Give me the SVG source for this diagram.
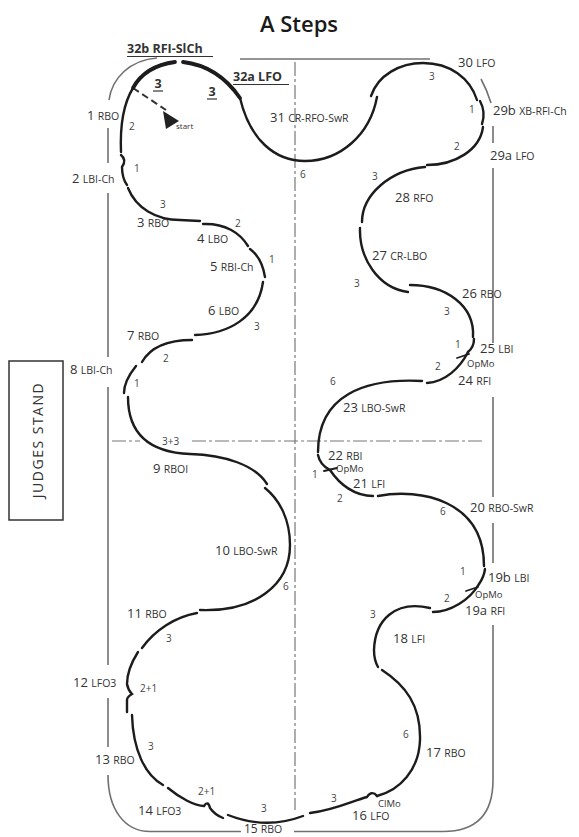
<svg xmlns="http://www.w3.org/2000/svg" width="579" height="837" viewBox="0 0 579 837">
<style>
.trace{fill:none;stroke:#1c1c1c;stroke-width:2.4;stroke-linecap:round}
.thick{stroke-width:3.8}
.rink{fill:none;stroke:#707070;stroke-width:1.6}
.axis{fill:none;stroke:#777;stroke-width:1.2;stroke-dasharray:14 3 3 3}
.ul{stroke:#333;stroke-width:1.2}
text{font-family:"Open Sans","Liberation Sans",Arial,sans-serif;fill:#333}
.lbl{font-size:13px}
.code{font-size:10.5px}
.cnt{font-size:10px;fill:#444}
.op{font-size:9.5px}
.hd{font-size:12.5px;font-weight:bold}
.title{font-size:22px;fill:#1a1a1a;font-weight:600}
</style>
<rect width="579" height="837" fill="#fff"/>
<text class="title" x="299" y="32" text-anchor="middle">A Steps</text>

<g id="rink">
<path class="rink" d="M109,100 C112,78 130,60 157,58"/>
<path class="rink" d="M240,59 L430,59"/>
<path class="rink" d="M481,79 Q487,90 491,103"/>
<path class="rink" d="M493,126 L493,143 M493,168 L493,343 M493,397 L493,497 M493,523 L493,563 M493,625 L493,780"/>
<path class="rink" d="M493,780 C493,815 475,831.5 443,831.5 L294,831.5 M241,831.5 L150,831.5 C125,831.5 108,810 108,775"/>
<path class="rink" d="M108,747 L108,698 M108,665 L108,387 M108,357 L108,193 M108,163 L108,128"/>
</g>

<g id="axes">
<path class="axis" d="M295,62 L295,810"/>
<path class="axis" d="M112,441 L140,441 M192,441 L482,441"/>
</g>

<g id="judges-stand">
<rect x="9" y="361" width="54" height="159" fill="none" stroke="#333" stroke-width="1.5"/>
<text x="0" y="0" transform="translate(43,440) rotate(-90)" text-anchor="middle" style="font-size:14px;letter-spacing:1.5px">JUDGES STAND</text>
</g>

<g id="start">
<path d="M133,88 L166,110" fill="none" stroke="#333" stroke-width="2" stroke-dasharray="7 4"/>
<polygon points="163,111 179,121 166,129" fill="#222"/>
<text x="176" y="129" style="font-size:8px">start</text>
</g>

<g id="connectors">
<g id="step-1"><path class="trace" d="M133,88 C122,106 120,128 121,152"/>
<text class="lbl" x="87" y="120">1 <tspan class="code">RBO</tspan></text><text class="cnt" x="129" y="130">2</text></g>
<g id="step-2"><path class="trace" d="M121,155 Q127,160 122,167 Q122,178 127,185"/>
<text class="lbl" x="72" y="183">2 <tspan class="code">LBI-Ch</tspan></text><text class="cnt" x="134" y="172">1</text></g>
<g id="step-3"><path class="trace" d="M128,188 C136,208 156,220 180,220 L200,221"/>
<text class="lbl" x="137" y="227">3 <tspan class="code">RBO</tspan></text><text class="cnt" x="160" y="208">3</text></g>
<g id="step-4"><path class="trace" d="M203,224 C225,223 240,233 248,246"/>
<text class="lbl" x="197" y="243">4 <tspan class="code">LBO</tspan></text><text class="cnt" x="235" y="227">2</text></g>
<g id="step-5"><path class="trace" d="M250,249 Q262,258 265,277"/>
<text class="lbl" x="210" y="271">5 <tspan class="code">RBI-Ch</tspan></text><text class="cnt" x="269" y="263">1</text></g>
<g id="step-6"><path class="trace" d="M263,282 C258,318 228,334 195,335"/>
<text class="lbl" x="208" y="315">6 <tspan class="code">LBO</tspan></text><text class="cnt" x="254" y="330">3</text></g>
<g id="step-7"><path class="trace" d="M192,340 C165,340 150,348 142,362"/>
<text class="lbl" x="127" y="340">7 <tspan class="code">RBO</tspan></text><text class="cnt" x="163" y="362">2</text></g>
<g id="step-8"><path class="trace" d="M136,366 C128,376 124,384 124,393"/>
<text class="lbl" x="70" y="374">8 <tspan class="code">LBI-Ch</tspan></text><text class="cnt" x="134" y="387">1</text></g>
<g id="step-9"><path class="trace" d="M128,397 C128,425 140,452 190,454 C225,455 255,465 267,484"/>
<text class="lbl" x="153" y="473">9 <tspan class="code">RBOI</tspan></text><text class="cnt" x="162" y="445">3+3</text></g>
<g id="step-10"><path class="trace" d="M265,488 C280,500 290,520 290,545 C290,585 255,612 200,610"/>
<text class="lbl" x="215" y="555">10 <tspan class="code">LBO-SwR</tspan></text><text class="cnt" x="283" y="590">6</text></g>
<g id="step-11"><path class="trace" d="M197,613 C175,617 155,630 142,648"/>
<text class="lbl" x="127" y="618">11 <tspan class="code">RBO</tspan></text><text class="cnt" x="166" y="642">3</text></g>
<g id="step-12"><path class="trace" d="M138,652 C131,663 127,673 127,684 Q128,690 132,694 Q127,697 127,700 L127,712"/>
<text class="lbl" x="73" y="687">12 <tspan class="code">LFO3</tspan></text><text class="cnt" x="140" y="692">2+1</text></g>
<g id="step-13"><path class="trace" d="M132,715 C133,750 145,775 163,785"/>
<text class="lbl" x="95" y="764">13 <tspan class="code">RBO</tspan></text><text class="cnt" x="148" y="750">3</text></g>
<g id="step-14"><path class="trace" d="M168,788 C180,798 195,806 204,806 Q208,800 210,808 Q215,815 223,818"/>
<text class="lbl" x="138" y="815">14 <tspan class="code">LFO3</tspan></text><text class="cnt" x="198" y="795">2+1</text></g>
<g id="step-15"><path class="trace" d="M228,815 Q266,830 303,816"/>
<text class="lbl" x="244" y="833" style="font-size:12px">15 <tspan class="code">RBO</tspan></text><text class="cnt" x="261" y="812">3</text></g>
<g id="step-16"><path class="trace" d="M310,813 C335,810 352,801 367,797 C370,792 374,792 377,796"/>
<text class="lbl" x="352" y="820">16 <tspan class="code">LFO</tspan></text><text class="op" x="378" y="807">ClMo</text><text class="cnt" x="331" y="802">3</text></g>
<g id="step-17"><path class="trace" d="M377,796 C400,790 419,770 420,740 C421,705 405,685 382,670"/>
<text class="lbl" x="426" y="757">17 <tspan class="code">RBO</tspan></text><text class="cnt" x="403" y="738">6</text></g>
<g id="step-18"><path class="trace" d="M378,667 Q374,660 374,650 C375,620 395,600 430,608"/>
<text class="lbl" x="393" y="643">18 <tspan class="code">LFI</tspan></text><text class="cnt" x="370" y="618">3</text></g>
<g id="step-19a"><path class="trace" d="M433,612 C450,612 470,600 479,584"/><path class="trace" d="M466,591 L478,587" style="stroke-width:1.8"/>
<text class="lbl" x="465" y="615">19a <tspan class="code">RFI</tspan></text><text class="op" x="475" y="598">OpMo</text><text class="cnt" x="444" y="602">2</text></g>
<g id="step-19b"><path class="trace" d="M485,569 Q484,577 479,584"/>
<text class="lbl" x="488" y="582">19b <tspan class="code">LBI</tspan></text><text class="cnt" x="460" y="575">1</text></g>
<g id="step-20"><path class="trace" d="M378,496 C420,488 484,500 484,566"/>
<text class="lbl" x="470" y="512">20 <tspan class="code">RBO-SwR</tspan></text><text class="cnt" x="440" y="515">6</text></g>
<g id="step-21"><path class="trace" d="M330,470 C340,485 355,496 373,496"/>
<text class="lbl" x="353" y="488">21 <tspan class="code">LFI</tspan></text><text class="cnt" x="337" y="502">2</text></g>
<g id="step-22"><path class="trace" d="M318,455 Q320,465 330,470"/><path class="trace" d="M324,471 L337,468" style="stroke-width:1.8"/>
<text class="lbl" x="328" y="460">22 <tspan class="code">RBI</tspan></text><text class="op" x="336" y="472">OpMo</text><text class="cnt" x="312" y="478">1</text></g>
<g id="step-23"><path class="trace" d="M422,381 C365,378 318,395 318,452"/>
<text class="lbl" x="343" y="412">23 <tspan class="code">LBO-SwR</tspan></text><text class="cnt" x="330" y="385">6</text></g>
<g id="step-24"><path class="trace" d="M468,352 C460,368 445,382 427,383"/><path class="trace" d="M457,358 L469,354" style="stroke-width:1.8"/>
<text class="lbl" x="458" y="385">24 <tspan class="code">RFI</tspan></text><text class="op" x="467" y="367">OpMo</text><text class="cnt" x="435" y="370">2</text></g>
<g id="step-25"><path class="trace" d="M474,339 Q474,347 468,352"/>
<text class="lbl" x="480" y="353">25 <tspan class="code">LBI</tspan></text><text class="cnt" x="455" y="348">1</text></g>
<g id="step-26"><path class="trace" d="M410,285 C445,285 475,305 473,337"/>
<text class="lbl" x="462" y="298">26 <tspan class="code">RBO</tspan></text><text class="cnt" x="444" y="315">3</text></g>
<g id="step-27"><path class="trace" d="M360,228 C359,258 378,288 408,292"/>
<text class="lbl" x="372" y="260">27 <tspan class="code">CR-LBO</tspan></text><text class="cnt" x="354" y="287">3</text></g>
<g id="step-28"><path class="trace" d="M425,167 C390,170 362,195 362,222"/>
<text class="lbl" x="395" y="202">28 <tspan class="code">RFO</tspan></text><text class="cnt" x="372" y="180">3</text></g>
<g id="step-29a"><path class="trace" d="M483,127 C480,150 455,165 427,165"/>
<text class="lbl" x="490" y="160">29a <tspan class="code">LFO</tspan></text><text class="cnt" x="454" y="150">2</text></g>
<g id="step-29b"><path class="trace" d="M480,101 Q486,112 482,124"/>
<text class="lbl" x="493" y="115">29b <tspan class="code">XB-RFI-Ch</tspan></text><text class="cnt" x="469" y="113">1</text></g>
<g id="step-30"><path class="trace" d="M371,96 C378,75 400,63 423,63 C450,63 470,78 477,100"/>
<text class="lbl" x="458" y="67">30 <tspan class="code">LFO</tspan></text><text class="cnt" x="429" y="80">3</text></g>
<g id="step-31"><path class="trace" d="M240,98 C250,140 275,161 305,161 C340,161 370,135 377,97"/>
<text class="lbl" x="270" y="122">31 <tspan class="code">CR-RFO-SwR</tspan></text><text class="cnt" x="300" y="178">6</text></g>
<g id="step-32a"><path class="trace thick" d="M183,62 Q218,66 240,98"/>
<text class="hd" x="233" y="81">32a LFO</text><line class="ul" x1="233" y1="84.5" x2="289" y2="84.5"/>
<text class="hd" x="212" y="96" text-anchor="middle">3</text><line class="ul" x1="207" y1="99" x2="217" y2="99"/></g>
<g id="step-32b"><path class="trace thick" d="M133,88 Q145,66 175,62"/>
<text class="hd" x="127" y="53">32b RFI-SlCh</text><line class="ul" x1="127" y1="56.5" x2="213" y2="56.5"/>
<text class="hd" x="158" y="88" text-anchor="middle">3</text><line class="ul" x1="153" y1="91" x2="163" y2="91"/></g>
</g>
</svg>
